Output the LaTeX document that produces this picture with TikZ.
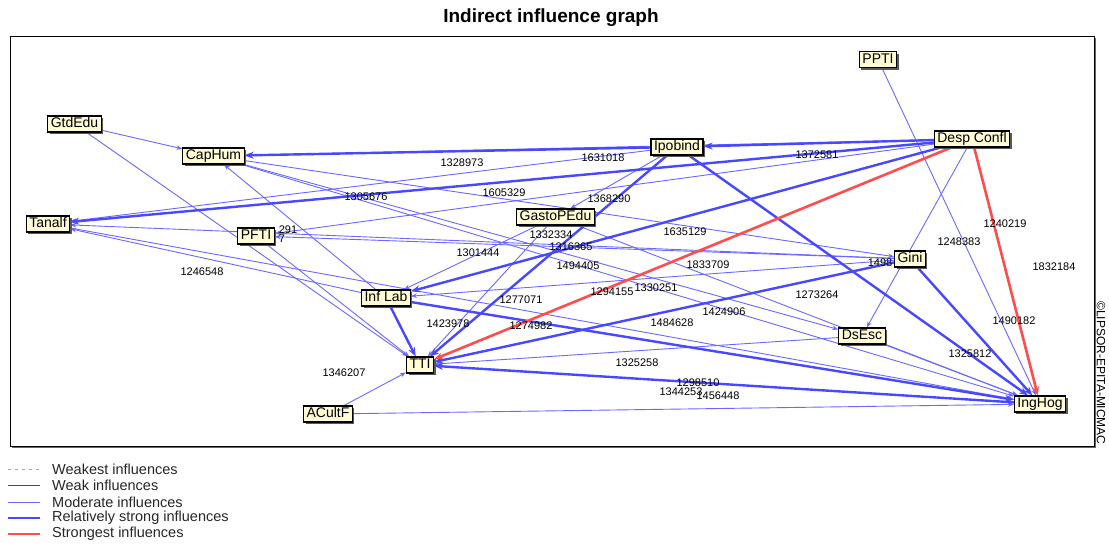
\documentclass[tikz,border=0pt]{standalone}
\usepackage{fontspec}
\setmainfont{Liberation Sans}
\usepackage{xcolor}
\usetikzlibrary{arrows.meta}
\usetikzlibrary{shadows}
\usetikzlibrary{backgrounds}

\definecolor{modblue}{RGB}{105,105,255}
\definecolor{strongblue}{RGB}{72,72,255}
\definecolor{topred}{RGB}{255,77,77}
\definecolor{cream}{RGB}{255,251,212}

\tikzset{
  var/.style = {draw, line width = 1.1pt, fill = cream, inner xsep = 3pt, inner ysep = 1.5pt,
    text height = 10pt, text depth = 3pt, font = \fontsize{14}{14}\selectfont,
    drop shadow = {shadow xshift = 2pt, shadow yshift = -2pt, fill = black!65, opacity = 1}},
  weakest/.style = {draw = black!35, dash pattern = on 3pt off 4pt, line width = 0.7pt},
  weak/.style = {draw = black!70, line width = 0.8pt},
  moderate/.style = {draw = modblue, line width = 0.9pt, -{Stealth[length = 6pt, width = 4.5pt]}},
  strong/.style = {draw = strongblue, line width = 2.4pt, -{Stealth[length = 9pt, width = 7pt]}},
  strongest/.style = {draw = topred, line width = 2.6pt, -{Stealth[length = 9pt, width = 7pt]}},
  weight/.style = {font = \fontsize{11}{11}\selectfont, inner sep = 0pt},
  legend/.style = {anchor = west, inner sep = 0pt, text = black!85, font = \fontsize{14.5}{14.5}\selectfont},
}

\begin{document}
\begin{tikzpicture}[x = 1pt, y = -1pt]
    \useasboundingbox (0,0) rectangle (1109,544);
    \node[font = \bfseries\fontsize{19}{19}\selectfont] (title) at (551,18) {Indirect influence graph};
    \node[rotate = -90, font = \fontsize{12}{12}\selectfont, inner sep = 0pt] (copyright) at (1101,373) {©LIPSOR-EPITA-MICMAC};

    % variables
    \node[var] (gtdedu) at (74.5,124) {GtdEdu};
    \node[var] (caphum) at (213.5,156) {CapHum};
    \node[var] (tanalf) at (48,224) {Tanalf};
    \node[var] (pfti) at (256,236) {PFTI};
    \node[var] (ipobind) at (677,147) {Ipobind};
    \node[var] (despconfl) at (972,139) {Desp Confl};
    \node[var] (ppti) at (878,59.5) {PPTI};
    \node[var] (gastopedu) at (555.5,217) {GastoPEdu};
    \node[var] (gini) at (910,259) {Gini};
    \node[var] (inflab) at (386,298) {Inf Lab};
    \node[var] (dsesc) at (862,336) {DsEsc};
    \node[var] (tti) at (420,365) {TTI};
    \node[var] (acultf) at (328,414) {ACultF};
    \node[var] (inghog) at (1040,404) {IngHog};

    % influences, behind the variables
    \begin{scope}[on background layer]
        \draw[fill = black!60, draw = none] (12,38) rectangle (1096,448);
        \draw[fill = white, line width = 1pt] (10,36) rectangle (1094,446);

        \draw[moderate] (gtdedu) -- (caphum);
        \draw[moderate] (gtdedu) -- (tti);
        \draw[moderate] (inflab) -- (caphum);
        \draw[moderate] (caphum) -- (dsesc);
        \draw[moderate] (caphum) -- (inghog);
        \draw[moderate] (caphum) -- (gini);
        \draw[moderate] (despconfl) -- (caphum);
        \draw[moderate] (ipobind) -- (tanalf);
        \draw[moderate] (gini) -- (tanalf);
        \draw[moderate] (inflab) -- (tanalf);
        \draw[moderate] (tanalf) -- (inghog);
        \draw[moderate] (despconfl) -- (pfti);
        \draw[moderate] (gini) -- (pfti);
        \draw[moderate] (pfti) -- (tti);
        \draw[moderate] (ipobind) -- (gastopedu);
        \draw[moderate] (gastopedu) -- (inflab);
        \draw[moderate] (gastopedu) -- (tti);
        \draw[moderate] (gastopedu) -- (inghog);
        \draw[moderate] (gini) -- (inflab);
        \draw[moderate] (despconfl) -- (dsesc);
        \draw[moderate] (dsesc) -- (tti);
        \draw[moderate] (dsesc) -- (inghog);
        \draw[moderate] (acultf) -- (tti);
        \draw[moderate] (acultf) -- (inghog);
        \draw[moderate] (ppti) -- (inghog);
        \draw[moderate] (tti) -- (inghog);

        \draw[strong] (ipobind) -- (caphum);
        \draw[strong] (despconfl) -- (ipobind);
        \draw[strong] (despconfl) -- (tanalf);
        \draw[strong] (despconfl) -- (inflab);
        \draw[strong] (ipobind) -- (tti);
        \draw[strong] (ipobind) -- (inghog);
        \draw[strong] (inflab) -- (tti);
        \draw[strong] (inflab) -- (inghog);
        \draw[strong] (gini) -- (tti);
        \draw[strong] (gini) -- (inghog);
        \draw[strong] (inghog) -- (tti);

        \draw[strongest] (despconfl) -- (tti);
        \draw[strongest] (despconfl) -- (inghog);
    \end{scope}

    % weights of the paths
    \begin{scope}[on background layer]
        \foreach \val/\x/\y [count = \i] in {1328973/462/163, 1631018/603/158, 1372581/817/155,
            1305676/366/197, 1605329/504/193, 1368290/609/199, 1332334/551/235,
            1316365/571/247, 1635129/685/232, 1301444/478/253, 1494405/578/266,
            1833709/708/265, 1294155/612/292, 1330251/656/288, 1277071/521/300,
            1423978/448/324, 1274982/531/326, 1484628/672/323, 1424906/724/312,
            1273264/817/295, 1325258/637/363, 1298510/698/383, 1344253/681/392,
            1456448/718/396, 1346207/344/373, 1246548/202/272, 1248383/959/242,
            1240219/1005/224, 1832184/1054/267, 1490182/1014/321, 1325812/970/354,
            291/288/230, 7/282/239, 1498/880/263}
            \node[weight] (w\i) at (\x,\y) {\val};
    \end{scope}

    % legend
    \foreach \sty/\txt/\y [count = \i] in {weakest/Weakest influences/469, weak/Weak influences/485,
        moderate/Moderate influences/502, strong/Relatively strong influences/518,
        strongest/Strongest influences/534} {
        \draw[\sty, -] (8,\y) -- (40,\y);
        \node[legend] (key\i) at (52,\y) {\txt};
    }
\end{tikzpicture}
\end{document}
